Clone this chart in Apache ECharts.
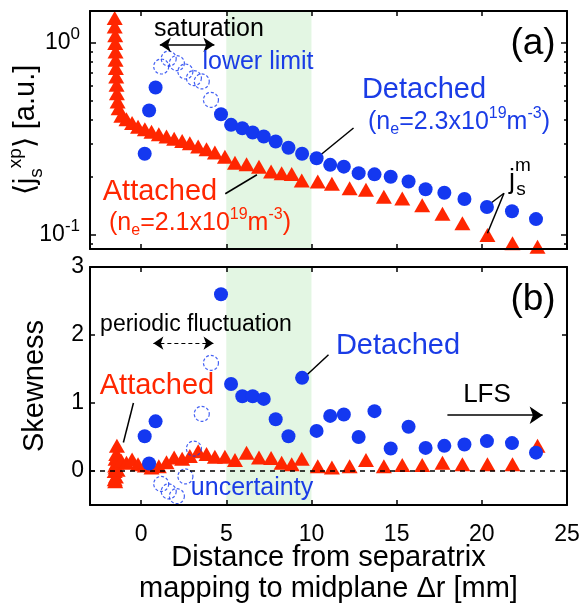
<!DOCTYPE html>
<html>
<head>
<meta charset="utf-8">
<script src="https://cdn.jsdelivr.net/npm/echarts@6/dist/echarts.min.js"></script>
<style>html,body{margin:0;padding:0;background:#fff}#c{width:583px;height:603px}</style>
</head>
<body>
<div id="c"></div>
<script>
// ---------- DATA ----------
const xTicks = [0, 5, 10, 15, 20, 25];
const topYTicks = [0.1, 1];
const topYTickExp = ['-1', '0'];
const topYMinor = [0.09, 0.2, 0.3, 0.4, 0.5, 0.6, 0.7, 0.8, 0.9];
const botYTicks = [0, 1, 2, 3];

// Attached (red triangles)
const attX = [-1.55,-1.55,-1.52,-1.52,-1.5,-1.5,-1.48,-1.46,-1.44,-1.42,-1.38,-1.32,
  -1.16,-0.86,-0.53,-0.18,0.22,0.61,1.04,1.49,1.94,2.41,
  2.86,3.35,3.84,4.33,4.92,5.51,6.19,6.92,7.63,8.25,
  8.84,9.43,10.37,11.2,12.24,13.2,14.25,15.33,16.5,17.69,
  18.86,20.33,21.8,23.27];
const attJs = [1.35,1.22,1.10,1.0,0.904,0.818,0.741,0.67,0.606,0.548,0.496,0.458,
  0.418,0.401,0.383,0.367,0.356,0.345,0.335,0.326,0.317,0.309,
  0.301,0.289,0.28,0.269,0.256,0.238,0.234,0.227,0.214,0.21,
  0.208,0.192,0.19,0.185,0.175,0.172,0.158,0.155,0.143,0.129,
  0.115,0.1,0.0905,0.0869];
const attSkew = [0.0,-0.12,0.08,-0.15,0.18,0.05,-0.08,0.25,0.12,0.37,0.02,0.2,
  0.15,0.12,0.17,0.1,0.08,0.05,0.07,0.13,0.2,0.18,
  0.22,0.29,0.25,0.21,0.21,0.16,0.27,0.2,0.19,0.12,
  0.1,0.18,0.07,0.05,0.07,0.16,0.07,0.09,0.09,0.12,
  0.1,0.1,0.1,0.37];

// Detached (blue filled circles)
const detX = [0.21,0.47,0.85,4.69,5.28,5.94,6.55,7.2,7.9,8.65,9.45,10.3,11.1,11.9,12.77,13.7,14.65,15.7,16.7,17.8,18.98,20.3,21.77,23.18];
const detJs = [0.265,0.445,0.587,0.426,0.375,0.36,0.342,0.326,0.307,0.285,0.265,0.251,0.232,0.227,0.21,0.207,0.201,0.19,0.173,0.166,0.154,0.14,0.133,0.121];
const detSkew = [0.51,0.11,0.73,2.6,1.28,1.1,1.1,1.06,0.76,0.51,1.37,0.59,0.81,0.83,0.5,0.88,0.33,0.65,0.34,0.37,0.39,0.44,0.41,0.27];

// Detached, saturated / uncertain (blue dashed open circles)
const satX = [1.18,1.62,2.1,2.6,3.1,3.56,4.1];
const satJs = [0.755,0.83,0.786,0.711,0.657,0.631,0.506];
const satSkew = [-0.19,-0.3,-0.37,-0.08,0.33,0.84,1.59];

const shadeBand = [5, 10];

// ---------- STYLE ----------
const RED = '#ff2600', BLUE = '#1438f0', BLUET = '#1a3ce6';
const FF = '"Liberation Sans", Arial, Helvetica, sans-serif';
const zip = (a, b) => a.map((v, i) => [v, b[i]]);

const chart = echarts.init(document.getElementById('c'), null, {renderer: 'canvas'});

const lineBlk = {color: '#000', width: 2};
const tickStyle = {color: '#000', width: 1.5};

function xAx(grid, pos, labels) {
  return {
    type: 'value', gridIndex: grid, position: pos, min: -3, max: 25, z: 10,
    axisLine: {show: true, onZero: false, lineStyle: lineBlk},
    axisTick: {show: true, inside: true, length: 5, lineStyle: tickStyle, customValues: xTicks.slice(0, 5)},
    axisLabel: labels ? {show: true, customValues: xTicks, fontSize: 23, color: '#000', fontFamily: FF, margin: 18} : {show: false},
    splitLine: {show: false}
  };
}
function yAxLog(pos, line, ticks, len) {
  return {
    type: 'log', gridIndex: 0, position: pos, min: 0.0845, max: 1.47, z: 10,
    axisLine: {show: line, onZero: false, lineStyle: lineBlk},
    axisTick: {show: true, inside: true, length: len, lineStyle: tickStyle, customValues: ticks},
    axisLabel: {show: false}, splitLine: {show: false}
  };
}

const option = {
  animation: false,
  backgroundColor: '#fff',
  textStyle: {fontFamily: FF},
  grid: [
    {left: 90, top: 11, width: 477, height: 238, outerBoundsMode: 'none', containLabel: false},
    {left: 90, top: 267, width: 477, height: 238, outerBoundsMode: 'none', containLabel: false}
  ],
  xAxis: [
    xAx(0, 'bottom', false),
    xAx(0, 'top', false),
    Object.assign(xAx(1, 'bottom', true), {
      name: 'Distance from separatrix\nmapping to midplane \u0394r [mm]',
      nameLocation: 'middle', nameGap: 37, nameMoveOverlap: false,
      nameTextStyle: {fontSize: 29, lineHeight: 31, color: '#000', fontFamily: FF}
    }),
    xAx(1, 'top', false)
  ],
  yAxis: [
    Object.assign(yAxLog('left', true, topYTicks, 6), {
      axisLabel: {
        show: true, customValues: topYTicks, margin: 10, color: '#000', fontFamily: FF, fontSize: 23, lineHeight: 34,
        formatter: v => '10{sup|' + topYTickExp[topYTicks.findIndex(t => Math.abs(t - v) < 1e-9)] + '}',
        rich: {sup: {fontSize: 17, verticalAlign: 'top', lineHeight: 17, color: '#000', fontFamily: FF}}
      },
      name: '\u27E8j{sub|s}{sup|xp}\u27E9 [a.u.]',
      nameLocation: 'middle', nameGap: 44, nameMoveOverlap: false,
      nameTextStyle: {
        fontSize: 29, color: '#000', fontFamily: FF, lineHeight: 40,
        rich: {
          sub: {fontSize: 19, verticalAlign: 'bottom', lineHeight: 19, color: '#000', fontFamily: FF},
          sup: {fontSize: 19, verticalAlign: 'top', lineHeight: 19, color: '#000', fontFamily: FF}
        }
      }
    }),
    yAxLog('left', false, topYMinor, 3),
    yAxLog('right', true, topYTicks, 6),
    yAxLog('right', false, topYMinor, 3),
    {
      type: 'value', gridIndex: 1, position: 'left', min: -0.5, max: 3, z: 10,
      axisLine: {show: true, onZero: false, lineStyle: lineBlk},
      axisTick: {show: true, inside: true, length: 5, lineStyle: tickStyle, customValues: botYTicks},
      axisLabel: {show: true, customValues: botYTicks, margin: 6, color: '#000', fontFamily: FF, fontSize: 23},
      splitLine: {show: false},
      name: 'Skewness', nameLocation: 'middle', nameGap: 41,
      nameTextStyle: {fontSize: 29, color: '#000', fontFamily: FF}
    },
    {
      type: 'value', gridIndex: 1, position: 'right', min: -0.5, max: 3, z: 10,
      axisLine: {show: true, onZero: false, lineStyle: lineBlk},
      axisTick: {show: true, inside: true, length: 5, lineStyle: tickStyle, customValues: botYTicks},
      axisLabel: {show: false}, splitLine: {show: false}
    }
  ],
  series: [
    // ---- top panel ----
    {
      type: 'scatter', xAxisIndex: 0, yAxisIndex: 0, z: 3,
      symbol: 'triangle', symbolSize: [16, 14],
      itemStyle: {color: RED, opacity: 1},
      data: zip(attX, attJs),
      markArea: {
        silent: true, z: 1,
        itemStyle: {color: '#e3f6e3'},
        data: [[{xAxis: shadeBand[0]}, {xAxis: shadeBand[1]}]]
      },
      markLine: {
        silent: true, symbol: 'none', label: {show: false},
        lineStyle: {color: '#000', width: 1.5, type: 'solid'},
        data: [
          [{coord: [1.1, 0.98], symbol: 'arrow', symbolSize: 11}, {coord: [4.3, 0.98], symbol: 'arrow', symbolSize: 11}],
          [{coord: [12.47, 0.361]}, {coord: [10.53, 0.261]}],
          [{coord: [4.94, 0.164]}, {coord: [6.8, 0.206]}],
          [{coord: [21.3, 0.165]}, {coord: [20.33, 0.142]}],
          [{coord: [21.3, 0.165]}, {coord: [20.33, 0.102]}]
        ]
      }
    },
    {
      type: 'scatter', xAxisIndex: 0, yAxisIndex: 0, z: 4,
      symbol: 'circle', symbolSize: 15,
      itemStyle: {color: 'rgba(0,0,0,0)', borderColor: BLUE, borderWidth: 1.2, borderType: [3, 2]},
      data: zip(satX, satJs)
    },
    {
      type: 'scatter', xAxisIndex: 0, yAxisIndex: 0, z: 5,
      symbol: 'circle', symbolSize: 14,
      itemStyle: {color: BLUE, opacity: 1},
      data: zip(detX, detJs)
    },
    // ---- bottom panel ----
    {
      type: 'scatter', xAxisIndex: 2, yAxisIndex: 4, z: 3,
      symbol: 'triangle', symbolSize: [16, 14],
      itemStyle: {color: RED, opacity: 1},
      data: zip(attX, attSkew),
      markArea: {
        silent: true, z: 1,
        itemStyle: {color: '#e3f6e3'},
        data: [[{xAxis: shadeBand[0]}, {xAxis: shadeBand[1]}]]
      },
      markLine: {
        silent: true, symbol: 'none', label: {show: false},
        lineStyle: {color: '#000', width: 1.5, type: 'solid'},
        data: [
          {yAxis: 0, lineStyle: {type: [5, 5], width: 1.5, color: '#000'}},
          [{coord: [0.72, 1.88], symbol: 'arrow', symbolSize: 10, lineStyle: {type: [4, 3], width: 1.2, color: '#000'}},
           {coord: [4.25, 1.88], symbol: 'arrow', symbolSize: 10}],
          [{coord: [-0.45, 1.0]}, {coord: [-1.04, 0.42]}],
          [{coord: [11.0, 1.71]}, {coord: [9.63, 1.39]}],
          [{coord: [17.98, 0.82]}, {coord: [23.57, 0.82], symbol: 'arrow', symbolSize: 13}]
        ]
      }
    },
    {
      type: 'scatter', xAxisIndex: 2, yAxisIndex: 4, z: 4,
      symbol: 'circle', symbolSize: 15,
      itemStyle: {color: 'rgba(0,0,0,0)', borderColor: BLUE, borderWidth: 1.2, borderType: [3, 2]},
      data: zip(satX, satSkew)
    },
    {
      type: 'scatter', xAxisIndex: 2, yAxisIndex: 4, z: 5,
      symbol: 'circle', symbolSize: 14,
      itemStyle: {color: BLUE, opacity: 1},
      data: zip(detX, detSkew)
    }
  ],
  graphic: []
};

function txt(x, y, text, size, color, rich) {
  return {
    type: 'text', x: x, y: y, z: 20, silent: true,
    style: {
      text: text, fill: color || '#000', fontSize: size, fontFamily: FF,
      align: 'center', verticalAlign: 'middle', textAlign: 'center', textVerticalAlign: 'middle',
      rich: rich || {}
    }
  };
}
const neRich = (c) => ({
  sub: {fontSize: 16, fill: c, fontFamily: FF, verticalAlign: 'bottom', lineHeight: 16},
  sup: {fontSize: 16, fill: c, fontFamily: FF, verticalAlign: 'top', lineHeight: 16},
  m: {fontSize: 25, fill: c, fontFamily: FF, lineHeight: 32}
});
option.graphic = [
  txt(209, 29, 'saturation', 25),
  txt(258, 62, 'lower limit', 25, BLUET),
  txt(533, 44, '(a)', 37),
  txt(424, 90, 'Detached', 29, BLUET),
  txt(459, 122, '{m|(n}{sub|e}{m|=2.3x10}{sup|19}{m|m}{sup|-3}{m|)}', 25, BLUET, neRich(BLUET)),
  txt(160, 192, 'Attached', 29, RED),
  txt(200, 223, '{m|(n}{sub|e}{m|=2.1x10}{sup|19}{m|m}{sup|-3}{m|)}', 25, RED, neRich(RED)),
  txt(512, 181, 'j', 27),
  txt(523, 166, 'm', 19),
  txt(521, 190, 's', 19),
  txt(533, 300, '(b)', 37),
  txt(398, 346, 'Detached', 29, BLUET),
  txt(196, 325, 'periodic fluctuation', 23),
  txt(157, 386, 'Attached', 29, RED),
  txt(252, 488, 'uncertainty', 25, BLUET),
  txt(487, 395, 'LFS', 26)
];

chart.setOption(option);
</script>
</body>
</html>
